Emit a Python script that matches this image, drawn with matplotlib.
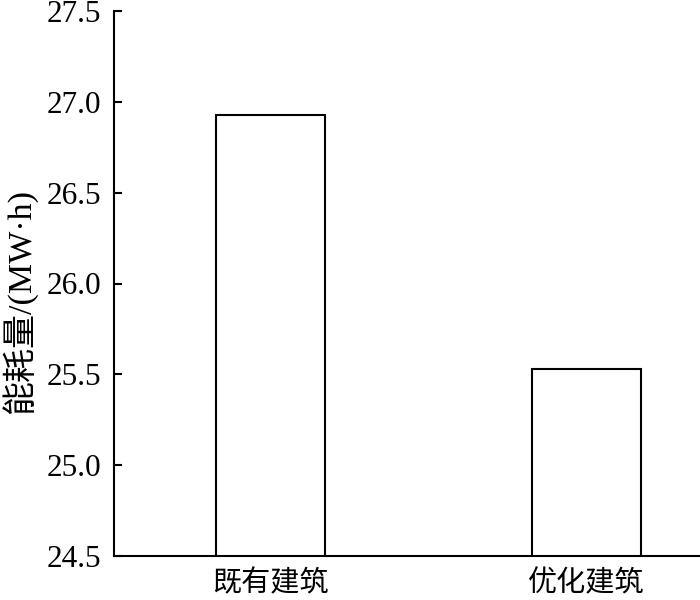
import matplotlib
matplotlib.use("Agg")
import matplotlib.pyplot as plt

plt.rcParams['font.family'] = ['Liberation Serif', 'Noto Sans CJK SC']
plt.rcParams['font.size'] = 20

categories = ['既有建筑', '优化建筑']
energy = [26.93, 25.53]
yticks = [24.5, 25.0, 25.5, 26.0, 26.5, 27.0, 27.5]

fig = plt.figure(figsize=(7, 6), dpi=100)
ax = fig.add_axes([0.163, 0.0733, 0.837, 0.9084])

x = list(range(len(categories)))
ax.bar(x, energy, width=0.345, color='white', edgecolor='black', linewidth=1.5)

ax.set_ylim(24.5, 27.5)
ax.set_xlim(-0.495, 1.36)
ax.set_yticks(yticks)
ax.set_yticklabels(['%.1f' % t for t in yticks], fontsize=22.5)
ax.set_xticks(x)
ax.set_xticklabels(categories, fontsize=21)
ax.tick_params(axis='y', direction='in', length=6, width=1.5, pad=9.5)
ax.tick_params(axis='x', length=0, pad=10)
ax.spines['top'].set_visible(False)
ax.spines['right'].set_visible(False)
ax.spines['left'].set_linewidth(1.5)
ax.spines['bottom'].set_linewidth(1.5)
fig.text(19 / 700, 1 - 301 / 600, '能耗量/(MW·h)', rotation=90,
         ha='center', va='center', fontsize=24.5)

fig.savefig('out.png', dpi=100)
